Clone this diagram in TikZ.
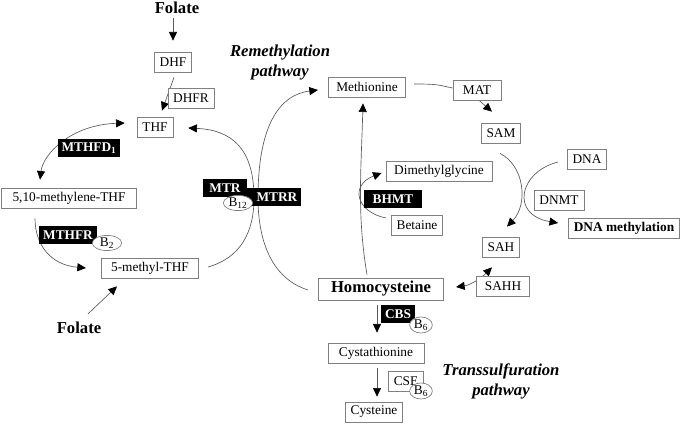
\documentclass[tikz,border=0pt]{standalone}
\usepackage{fontspec}
\setmainfont{Liberation Serif}
\usetikzlibrary{positioning,arrows.meta,calc,shapes.geometric,backgrounds}
\definecolor{framegray}{HTML}{808080}
\definecolor{linegray}{HTML}{5A5A5A}

\begin{document}
\begin{tikzpicture}[x=0.75pt, y=-0.75pt,
    >={Triangle[length=6.5pt,width=6pt,color=black]},
    box/.style={draw=framegray, fill=white, line width=0.5pt, inner xsep=4pt, inner ysep=2pt, minimum height=15pt, font=\fontsize{10}{12}\selectfont},
    enzyme/.style={fill=black, text=white, inner xsep=3pt, inner ysep=1.5pt, minimum height=13.5pt, font=\fontsize{10}{12}\selectfont\bfseries},
    cofactor/.style={ellipse, draw=framegray, fill=white, line width=0.5pt, inner sep=0pt, minimum width=22pt, minimum height=10.5pt, font=\fontsize{10}{12}\selectfont},
    heading/.style={inner sep=0pt, font=\fontsize{12.5}{15}\selectfont\bfseries},
    pathway/.style={inner sep=0pt, align=center, font=\fontsize{12.5}{15}\selectfont\bfseries\itshape},
    link/.style={draw=linegray, line width=0.5pt}]
    \useasboundingbox (0,0) rectangle (685,427);

    % folate cycle
    \node[heading] (folateA) at (177,8) {Folate};
    \node[box] (dhf) at (173,62) {DHF};
    \node[box] (dhfr) at (191,98) {DHFR};
    \node[box] (thf) at (155,127) {THF};
    \node[enzyme] (mthfd) at (89,148) {MTHFD\textsubscript{1}};
    \node[box, minimum width=101pt] (methylene) at (69,198) {5,10-methylene-THF};
    \node[enzyme] (mthfr) at (68,235) {MTHFR};
    \node[cofactor] (btwo) at (107,243) {B\textsubscript{2}};
    \node[box, minimum width=73pt] (methyl) at (150,268) {5-methyl-THF};
    \node[heading] (folateB) at (79,328) {Folate};

    % remethylation
    \node[enzyme, minimum width=39pt] (mtrr) at (273,197) {\hspace*{6pt}MTRR};
    \node[enzyme, minimum width=33pt] (mtr) at (225,188) {MTR};
    \node[cofactor] (btwelve) at (238,203) {B\textsubscript{12}};
    \node[pathway] (remeth) at (280,63) {Remethylation\\pathway};
    \node[box, minimum width=58pt] (met) at (367,87) {Methionine};
    \node[box, minimum width=36pt] (mat) at (477,90) {MAT};
    \node[box] (sam) at (501,133) {SAM};
    \node[box] (dna) at (587,159) {DNA};
    \node[box, minimum width=79.5pt] (dmg) at (439,171) {Dimethylglycine};
    \node[enzyme, minimum width=43.5pt] (bhmt) at (393,199) {BHMT};
    \node[box] (betaine) at (417,225) {Betaine};
    \node[box] (dnmt) at (559,200) {DNMT};
    \node[box, font=\fontsize{10}{12}\selectfont\bfseries] (dnameth) at (624,228) {DNA methylation};
    \node[box] (sah) at (501,247) {SAH};
    \node[box, minimum width=40pt] (sahh) at (503,286) {SAHH};
    \node[box, minimum width=94pt, minimum height=16.5pt, font=\fontsize{12.5}{15}\selectfont\bfseries] (hcy) at (381,289) {Homocysteine};

    % transsulfuration
    \node[enzyme] (cbs) at (398,314) {CBS};
    \node[cofactor, minimum width=17pt, minimum height=12pt] (bsixA) at (421,325) {B\textsubscript{6}};
    \node[box, minimum width=72pt] (cysta) at (376,353) {Cystathionine};
    \node[box] (cse) at (406,381) {CSE};
    \node[cofactor, minimum width=17pt, minimum height=12pt] (bsixB) at (421,391) {B\textsubscript{6}};
    \node[box] (cyst) at (374,412) {Cysteine};
    \node[pathway] (trans) at (501,381) {Transsulfuration\\pathway};

    \coordinate (kleft) at (254,198);
    \coordinate (kright) at (258,198);

    \begin{scope}[on background layer]
    \draw[link, ->] ($(folateA.south)+(-4,4)$) -- ($(dhf.north)+(0,-11)$);
    \draw[link, ->] ($(dhf.south)+(1,5)$) -- ($(thf.north)+(7,-6)$);
    \draw[link, <->] ($(methylene.north)+(-29,-8)$) .. controls +(3,-25) and +(-55,2) .. ($(thf.west)+(-12,-4)$);
    \draw[link, ->] ($(methylene.south)+(-34,10)$) .. controls +(0,27) and +(-35,-3) .. ($(methyl.west)+(-15,0)$);
    \draw[link, ->] ($(folateB.north)+(9,-8)$) -- ($(methyl.south)+(-33,8)$);
    \draw[link, ->] ($(methyl.east)+(9,-1)$) .. controls +(32,-9) and +(0,35) .. (kleft)
        .. controls +(0,-50) and +(43,2) .. ($(thf.east)+(15,1)$);
    \draw[link, ->] ($(hcy.west)+(-10,1)$) .. controls +(-38,-12) and +(0,40) .. (kright)
        .. controls +(0,-70) and +(-40,5) .. ($(met.west)+(-10,3)$);
    \draw[link, ->] ($(hcy.north)+(-14,-3)$) .. controls +(-10,-60) and +(-2,70) .. ($(met.south)+(-4,6)$);
    \draw[link, ->] ($(betaine.west)+(-5,-7)$) .. controls +(-30,-6) and +(-32,12) .. ($(dmg.west)+(-4,2)$);
    \draw[link] ($(met.east)+(8,-3)$) .. controls +(25,0) and +(-15,-3) .. ($(mat.west)+(0,-2)$);
    \draw[link, ->] ($(mat.south)+(2,0)$) -- ($(sam.north)+(-9,-11)$);
    \draw[link, ->] ($(sam.south)+(-1,10)$) .. controls +(25,13) and +(21,-22) .. ($(sah.north)+(6,-10)$);
    \draw[link, ->] ($(dna.west)+(-9,3)$) .. controls +(-39,10) and +(-48,-8) .. ($(dnameth.west)+(-10,-5)$);
    \draw[link, <->] ($(hcy.east)+(12,-2)$) .. controls +(15,-2) and +(-10,10) .. ($(sah.south)+(-9,10)$);
    \draw[link, ->] ($(hcy.south)+(-4,5)$) -- ($(cysta.north)+(1,-10)$);
    \draw[link, ->] ($(cysta.south)+(1,5)$) -- ($(cyst.north)+(3,-5)$);
    \end{scope}
\end{tikzpicture}
\end{document}
